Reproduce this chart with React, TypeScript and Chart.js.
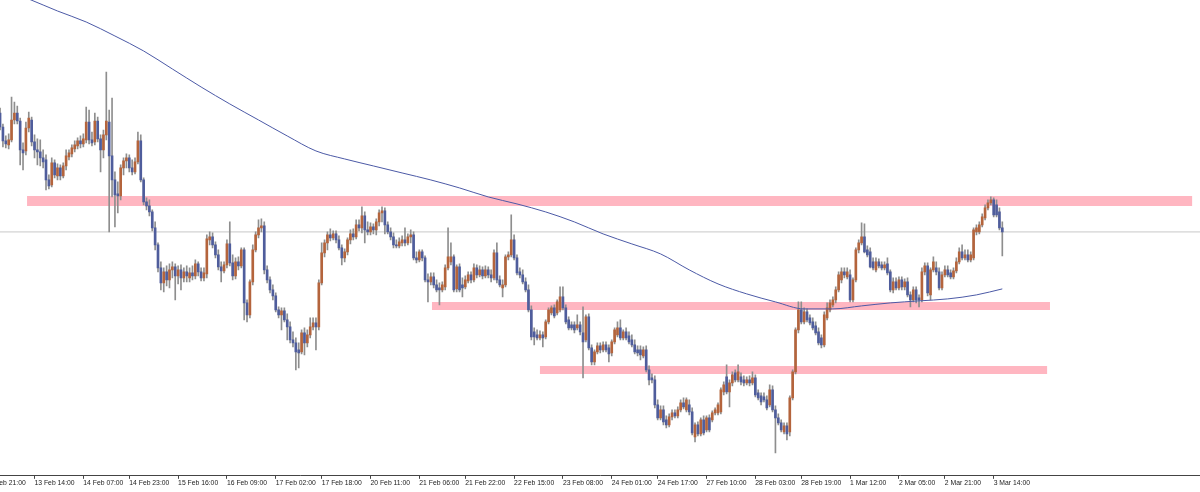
import React, { useEffect, useRef } from "react";
import { Chart, registerables } from "chart.js";

Chart.register(...registerables);

// Hourly candles, bar index counted from the "12 Feb 21:00" bar (index 0)
const FIRST_BAR = 5;

const OPEN = [
  114.87,114.73,114.59,114.55,114.60,114.80,114.87,114.79,114.50,114.49,
  114.72,114.80,114.58,114.50,114.48,114.42,114.40,114.20,114.15,114.37,
  114.24,114.32,114.24,114.34,114.43,114.46,114.51,114.54,114.59,114.56,
  114.60,114.78,114.60,114.58,114.79,114.61,114.50,114.65,114.78,114.44,
  114.20,114.06,114.04,114.32,114.39,114.42,114.32,114.28,114.38,114.59,
  114.20,113.98,113.94,113.88,113.72,113.55,113.32,113.17,113.28,113.20,
  113.30,113.33,113.24,113.30,113.22,113.28,113.22,113.27,113.24,113.36,
  113.28,113.22,113.26,113.60,113.63,113.55,113.45,113.33,113.29,113.35,
  113.56,113.37,113.24,113.38,113.34,113.50,112.97,112.85,113.18,113.50,
  113.65,113.72,113.74,113.30,113.20,113.10,113.04,112.90,112.85,112.89,
  112.80,112.73,112.60,112.57,112.50,112.48,112.67,112.57,112.65,112.73,
  112.77,112.73,113.17,113.47,113.57,113.65,113.62,113.66,113.60,113.52,
  113.42,113.48,113.60,113.66,113.63,113.75,113.72,113.84,113.70,113.68,
  113.73,113.70,113.78,113.87,113.89,113.75,113.68,113.63,113.55,113.54,
  113.57,113.60,113.57,113.63,113.65,113.42,113.40,113.48,113.42,113.20,
  113.18,113.23,113.15,113.12,113.10,113.13,113.32,113.38,113.43,113.11,
  113.33,113.15,113.13,113.19,113.25,113.20,113.32,113.25,113.30,113.24,
  113.30,113.25,113.22,113.47,113.20,113.12,113.15,113.43,113.45,113.60,
  113.42,113.28,113.25,113.18,113.10,112.90,112.68,112.65,112.62,112.65,
  112.63,112.78,112.87,112.92,112.87,112.90,113.03,112.92,112.80,112.75,
  112.75,112.72,112.75,112.67,112.60,112.83,112.52,112.38,112.48,112.54,
  112.50,112.55,112.52,112.47,112.58,112.65,112.72,112.62,112.68,112.64,
  112.60,112.55,112.50,112.50,112.44,112.50,112.30,112.22,112.20,111.95,
  111.82,111.90,111.80,111.75,111.83,111.87,111.84,111.90,111.97,111.90,
  111.95,111.88,111.63,111.75,111.66,111.80,111.70,111.82,111.80,111.87,
  111.87,111.88,112.08,112.23,112.08,112.17,112.27,112.20,112.23,112.20,
  112.17,112.20,112.17,112.22,112.07,112.04,112.03,112.00,111.95,112.10,
  111.90,111.82,111.77,111.68,111.74,111.68,112.02,112.28,112.70,112.90,
  112.78,112.88,112.82,112.78,112.74,112.68,112.62,112.55,112.82,112.90,
  112.95,113.00,113.10,113.20,113.28,113.23,113.25,113.00,113.20,113.50,
  113.57,113.63,113.50,113.48,113.38,113.30,113.38,113.35,113.32,113.36,
  113.28,113.10,113.18,113.12,113.20,113.13,113.18,113.05,113.00,113.10,
  113.02,113.00,113.28,113.34,113.05,113.30,113.32,113.28,113.12,113.25,
  113.30,113.27,113.23,113.29,113.38,113.48,113.42,113.45,113.40,113.42,
  113.68,113.68,113.75,113.82,113.92,113.97,114.00,113.95,113.88,113.72,
];

const HIGH = [
  114.92,114.76,114.64,114.66,115.03,114.98,114.94,114.82,114.57,114.78,
  114.88,114.83,114.65,114.61,114.60,114.50,114.45,114.25,114.42,114.40,
  114.36,114.35,114.37,114.50,114.50,114.55,114.59,114.62,114.64,114.66,
  114.93,114.90,114.68,114.87,114.83,114.65,114.70,115.28,114.90,115.02,
  114.28,114.18,114.35,114.42,114.46,114.45,114.40,114.42,114.68,114.65,
  114.22,114.02,114.00,113.90,113.78,113.57,113.38,113.32,113.34,113.36,
  113.38,113.36,113.34,113.35,113.32,113.34,113.32,113.34,113.40,113.38,
  113.32,113.32,113.65,113.68,113.67,113.58,113.50,113.38,113.38,113.60,
  113.78,113.45,113.42,113.43,113.52,113.52,113.00,113.20,113.55,113.68,
  113.80,113.81,113.78,113.34,113.23,113.15,113.07,112.93,112.92,112.92,
  112.86,112.78,112.68,112.62,112.57,112.70,112.72,112.70,112.82,112.82,
  112.82,113.20,113.57,113.60,113.68,113.71,113.69,113.69,113.64,113.55,
  113.51,113.62,113.70,113.71,113.80,113.80,113.93,113.88,113.78,113.77,
  113.76,113.81,113.90,113.93,113.92,113.78,113.72,113.67,113.60,113.62,
  113.64,113.72,113.66,113.70,113.68,113.48,113.50,113.50,113.44,113.26,
  113.27,113.27,113.20,113.17,113.18,113.35,113.72,113.57,113.45,113.35,
  113.36,113.22,113.24,113.28,113.28,113.36,113.35,113.34,113.33,113.34,
  113.33,113.30,113.50,113.57,113.24,113.20,113.45,113.48,113.85,113.65,
  113.45,113.32,113.30,113.22,113.15,112.94,112.72,112.70,112.69,112.68,
  112.80,112.92,112.94,112.95,113.00,113.13,113.13,112.95,112.83,112.78,
  112.78,112.85,112.78,112.93,112.85,112.86,112.55,112.50,112.57,112.57,
  112.58,112.58,112.55,112.60,112.72,112.78,112.80,112.70,112.72,112.68,
  112.65,112.60,112.54,112.54,112.53,112.54,112.34,112.26,112.24,112.00,
  111.94,111.94,111.84,111.86,111.90,111.90,111.93,112.00,112.02,112.02,
  112.00,111.92,111.77,111.78,111.82,111.84,111.84,111.85,111.89,111.92,
  111.97,112.12,112.18,112.35,112.20,112.28,112.30,112.35,112.27,112.24,
  112.23,112.24,112.28,112.25,112.10,112.07,112.07,112.04,112.15,112.14,
  111.94,111.86,111.80,111.77,111.77,112.04,112.30,112.72,112.98,112.98,
  112.92,112.91,112.85,112.82,112.78,112.72,112.65,112.88,112.97,113.00,
  113.03,113.13,113.28,113.32,113.32,113.32,113.30,113.22,113.52,113.60,
  113.77,113.76,113.54,113.52,113.42,113.42,113.41,113.38,113.38,113.42,
  113.30,113.22,113.22,113.23,113.23,113.21,113.22,113.08,113.13,113.13,
  113.05,113.32,113.37,113.37,113.32,113.43,113.38,113.32,113.28,113.34,
  113.34,113.30,113.32,113.42,113.52,113.55,113.50,113.50,113.48,113.72,
  113.75,113.78,113.86,113.95,114.00,114.03,114.02,114.00,113.92,113.78,
];

const LOW = [
  114.70,114.53,114.52,114.51,114.58,114.76,114.76,114.35,114.30,114.45,
  114.68,114.54,114.42,114.35,114.34,114.32,114.10,114.11,114.13,114.22,
  114.20,114.20,114.22,114.30,114.40,114.43,114.48,114.51,114.52,114.53,
  114.57,114.56,114.54,114.55,114.58,114.28,114.42,114.60,113.68,114.03,
  113.73,113.87,114.00,114.25,114.32,114.28,114.25,114.26,114.36,114.18,
  113.95,113.90,113.84,113.69,113.50,113.28,113.10,113.08,113.14,113.12,
  113.22,113.00,113.16,113.10,113.18,113.18,113.18,113.20,113.21,113.24,
  113.19,113.19,113.22,113.55,113.52,113.42,113.30,113.18,113.27,113.32,
  113.34,113.20,113.21,113.30,113.32,112.80,112.78,112.82,113.15,113.48,
  113.62,113.68,113.26,113.17,113.07,113.00,112.88,112.82,112.70,112.78,
  112.60,112.57,112.53,112.30,112.32,112.46,112.45,112.53,112.62,112.70,
  112.50,112.70,113.15,113.43,113.50,113.59,113.60,113.57,113.50,113.35,
  113.38,113.45,113.56,113.60,113.61,113.69,113.67,113.57,113.65,113.65,
  113.66,113.65,113.74,113.78,113.66,113.66,113.60,113.52,113.52,113.52,
  113.54,113.54,113.55,113.57,113.40,113.37,113.38,113.39,113.18,112.98,
  113.15,113.12,113.08,112.95,113.08,113.10,113.30,113.35,113.08,113.08,
  113.08,113.03,113.11,113.17,113.17,113.18,113.22,113.23,113.21,113.22,
  113.22,113.18,113.20,113.17,113.13,113.03,113.13,113.40,113.43,113.40,
  113.25,113.22,113.16,113.08,112.88,112.60,112.55,112.60,112.60,112.53,
  112.61,112.76,112.85,112.82,112.85,112.88,112.90,112.76,112.70,112.70,
  112.67,112.70,112.65,112.22,112.58,112.50,112.35,112.35,112.46,112.47,
  112.48,112.48,112.38,112.44,112.56,112.63,112.60,112.60,112.60,112.56,
  112.53,112.46,112.44,112.40,112.42,112.28,112.15,112.17,111.92,111.80,
  111.80,111.75,111.72,111.73,111.80,111.82,111.82,111.88,111.91,111.88,
  111.85,111.65,111.58,111.64,111.64,111.65,111.68,111.68,111.78,111.85,
  111.85,111.86,112.05,112.06,111.93,112.14,112.18,112.18,112.15,112.14,
  112.15,112.14,112.15,112.03,112.00,111.95,111.98,111.90,111.93,111.88,
  111.47,111.75,111.68,111.66,111.60,111.64,112.00,112.26,112.67,112.76,
  112.76,112.78,112.75,112.70,112.65,112.55,112.52,112.53,112.80,112.88,
  112.93,112.97,113.08,113.17,113.22,113.21,112.98,112.98,113.18,113.47,
  113.55,113.47,113.43,113.32,113.30,113.28,113.32,113.30,113.30,113.25,
  113.08,113.07,113.10,113.10,113.10,113.10,113.03,112.93,112.98,112.97,
  112.93,112.98,113.25,113.04,113.00,113.28,113.25,113.10,113.10,113.23,
  113.23,113.21,113.21,113.27,113.36,113.40,113.40,113.38,113.38,113.40,
  113.65,113.66,113.73,113.80,113.90,113.95,113.83,113.83,113.70,113.44,
];

const CLOSE = [
  114.73,114.59,114.56,114.60,114.80,114.87,114.79,114.50,114.47,114.72,
  114.82,114.58,114.50,114.48,114.42,114.38,114.20,114.14,114.37,114.25,
  114.32,114.24,114.34,114.44,114.47,114.52,114.55,114.59,114.56,114.61,
  114.78,114.60,114.57,114.79,114.61,114.50,114.65,114.79,114.44,114.20,
  114.05,114.04,114.32,114.39,114.42,114.32,114.28,114.38,114.59,114.20,
  113.98,113.94,113.88,113.72,113.55,113.32,113.17,113.28,113.20,113.30,
  113.33,113.24,113.30,113.22,113.28,113.24,113.27,113.24,113.36,113.28,
  113.22,113.27,113.61,113.63,113.55,113.45,113.33,113.29,113.35,113.56,
  113.37,113.24,113.38,113.34,113.50,112.97,112.85,113.18,113.50,113.65,
  113.72,113.74,113.30,113.20,113.10,113.04,112.90,112.85,112.89,112.80,
  112.73,112.60,112.57,112.48,112.47,112.67,112.57,112.65,112.73,112.77,
  112.73,113.17,113.47,113.57,113.65,113.62,113.66,113.60,113.52,113.42,
  113.48,113.60,113.66,113.63,113.75,113.72,113.84,113.70,113.68,113.73,
  113.70,113.78,113.87,113.89,113.75,113.68,113.63,113.55,113.54,113.58,
  113.60,113.57,113.63,113.65,113.42,113.40,113.48,113.42,113.20,113.18,
  113.23,113.15,113.10,113.10,113.15,113.32,113.43,113.43,113.10,113.33,
  113.10,113.12,113.20,113.25,113.20,113.32,113.25,113.30,113.24,113.30,
  113.25,113.22,113.47,113.20,113.15,113.15,113.43,113.45,113.60,113.42,
  113.27,113.25,113.18,113.10,112.90,112.63,112.63,112.62,112.65,112.62,
  112.78,112.90,112.92,112.84,112.98,113.03,112.92,112.78,112.72,112.72,
  112.70,112.75,112.68,112.58,112.83,112.52,112.38,112.48,112.54,112.50,
  112.55,112.50,112.46,112.58,112.70,112.72,112.62,112.68,112.62,112.58,
  112.55,112.48,112.47,112.45,112.50,112.30,112.20,112.20,111.95,111.82,
  111.90,111.78,111.75,111.83,111.87,111.84,111.90,111.97,111.93,112.00,
  111.88,111.67,111.75,111.66,111.80,111.67,111.82,111.70,111.87,111.90,
  111.95,112.10,112.15,112.08,112.17,112.25,112.20,112.28,112.18,112.17,
  112.20,112.17,112.22,112.05,112.02,111.98,112.00,111.92,112.10,111.90,
  111.82,111.77,111.70,111.74,111.66,112.02,112.28,112.70,112.90,112.78,
  112.88,112.80,112.77,112.72,112.67,112.57,112.55,112.85,112.92,112.97,
  113.00,113.10,113.25,113.28,113.25,113.28,113.00,113.20,113.50,113.57,
  113.63,113.48,113.45,113.33,113.32,113.38,113.34,113.32,113.35,113.27,
  113.10,113.18,113.12,113.20,113.13,113.18,113.05,113.00,113.10,113.00,
  113.00,113.28,113.34,113.07,113.30,113.38,113.28,113.12,113.25,113.30,
  113.25,113.23,113.29,113.38,113.48,113.42,113.45,113.40,113.45,113.70,
  113.72,113.75,113.83,113.92,113.97,114.00,113.85,113.85,113.72,113.68,
];

// Moving average, sampled at bar indices
const MA_BARS = [5,15,25,35,45,55,65,75,85,95,105,115,125,135,145,155,165,175,185,195,205,215,225,235,245,255,265,275,285,295,305,315,325,335,345,354];
const MA_VALUES = [116.12,116.01,115.89,115.78,115.64,115.49,115.31,115.13,114.96,114.80,114.64,114.49,114.41,114.34,114.27,114.20,114.12,114.03,113.96,113.88,113.78,113.66,113.56,113.46,113.30,113.16,113.06,112.98,112.91,112.91,112.94,112.97,112.99,113.01,113.05,113.11];

// Horizontal zones (price level, first bar, last bar)
const ZONE_LEVELS = [113.99, 112.94, 112.30];
const ZONE_FROM = [14.4, 155.4, 193.0];
const ZONE_TO = [420.1, 370.6, 369.6];
const REF_LEVEL = 113.68;

const TICK_BARS = [0,17,34,50,67,84,101,117,134,151,167,184,201,218,234,251,268,284,301,318,334,351];
const TICK_LABELS = [
  "12 Feb 21:00","13 Feb 14:00","14 Feb 07:00","14 Feb 23:00","15 Feb 16:00","16 Feb 09:00",
  "17 Feb 02:00","17 Feb 18:00","20 Feb 11:00","21 Feb 06:00","21 Feb 22:00","22 Feb 15:00",
  "23 Feb 08:00","24 Feb 01:00","24 Feb 17:00","27 Feb 10:00","28 Feb 03:00","28 Feb 19:00",
  "1 Mar 12:00","2 Mar 05:00","2 Mar 21:00","3 Mar 14:00",
];

const X_MIN = 4.98;
const X_MAX = 422.84;
const Y_MIN = 111.24;
const Y_MAX = 116.0;

const UP = "#b4643c";
const DOWN = "#4f5d9c";
const WICK = "#8e8e8e";
const MA_COLOR = "#4c5aa6";
const ZONE_COLOR = "#ffb6c1";
const REF_COLOR = "#c8c8c8";

export default function App() {
  const ref = useRef<HTMLCanvasElement | null>(null);

  useEffect(() => {
    if (!ref.current) return;
    const n = Math.min(OPEN.length, HIGH.length, LOW.length, CLOSE.length);
    const idx = Array.from({ length: n }, (_, i) => i);
    const bodies = idx.map((i) => ({ x: FIRST_BAR + i, y: [OPEN[i], CLOSE[i]] }));
    const wicks = idx.map((i) => ({ x: FIRST_BAR + i, y: [LOW[i], HIGH[i]] }));
    const bodyColors = idx.map((i) => (CLOSE[i] >= OPEN[i] ? UP : DOWN));

    const zoneSets = ZONE_LEVELS.map((lv, k) => ({
      type: "line" as const,
      data: [
        { x: ZONE_FROM[k], y: lv },
        { x: ZONE_TO[k], y: lv },
      ],
      borderColor: ZONE_COLOR,
      borderWidth: k === 0 ? 10 : 8,
      borderCapStyle: "butt" as const,
      pointRadius: 0,
      order: 10,
    }));

    const chart = new Chart(ref.current, {
      type: "bar",
      data: {
        datasets: [
          {
            type: "line",
            data: MA_BARS.map((b, i) => ({ x: b, y: MA_VALUES[i] })),
            borderColor: MA_COLOR,
            borderWidth: 1,
            pointRadius: 0,
            cubicInterpolationMode: "monotone",
            order: 1,
          } as any,
          {
            type: "bar",
            data: bodies,
            backgroundColor: bodyColors,
            barThickness: 2,
            grouped: false,
            minBarLength: 1,
            order: 2,
          } as any,
          {
            type: "bar",
            data: wicks,
            backgroundColor: WICK,
            barThickness: 1,
            grouped: false,
            order: 3,
          } as any,
          {
            type: "line",
            data: [
              { x: X_MIN, y: REF_LEVEL },
              { x: X_MAX, y: REF_LEVEL },
            ],
            borderColor: REF_COLOR,
            borderWidth: 1,
            pointRadius: 0,
            order: 9,
          } as any,
          ...(zoneSets as any[]),
        ],
      },
      options: {
        animation: false,
        responsive: true,
        maintainAspectRatio: false,
        events: [],
        layout: { padding: { left: 0, right: 0, top: 0, bottom: 4.6 } },
        plugins: { legend: { display: false }, tooltip: { enabled: false } },
        scales: {
          x: {
            type: "linear",
            min: X_MIN,
            max: X_MAX,
            bounds: "data",
            offset: false,
            afterBuildTicks: (s: any) => {
              s.ticks = TICK_BARS.map((v) => ({ value: v }));
            },
            afterFit: (s: any) => {
              s.paddingLeft = 0;
              s.paddingRight = 0;
            },
            grid: {
              display: true,
              drawOnChartArea: false,
              drawTicks: true,
              tickLength: 3,
              color: "#444",
              tickColor: "#444",
              offset: false,
            },
            border: { display: true, color: "#444", width: 1 },
            ticks: {
              autoSkip: false,
              maxRotation: 0,
              minRotation: 0,
              align: "start",
              padding: 0.2,
              color: "#222",
              font: { family: "Liberation Sans", size: 6.8 },
              callback: (_v: any, i: number) => TICK_LABELS[i] ?? "",
            },
          } as any,
          y: { type: "linear", display: false, min: Y_MIN, max: Y_MAX },
        },
      },
    });
    return () => chart.destroy();
  }, []);

  return (
    <div style={{ position: "fixed", left: 0, top: 0, width: 1200, height: 492, background: "#fff" }}>
      <canvas ref={ref} />
    </div>
  );
}
